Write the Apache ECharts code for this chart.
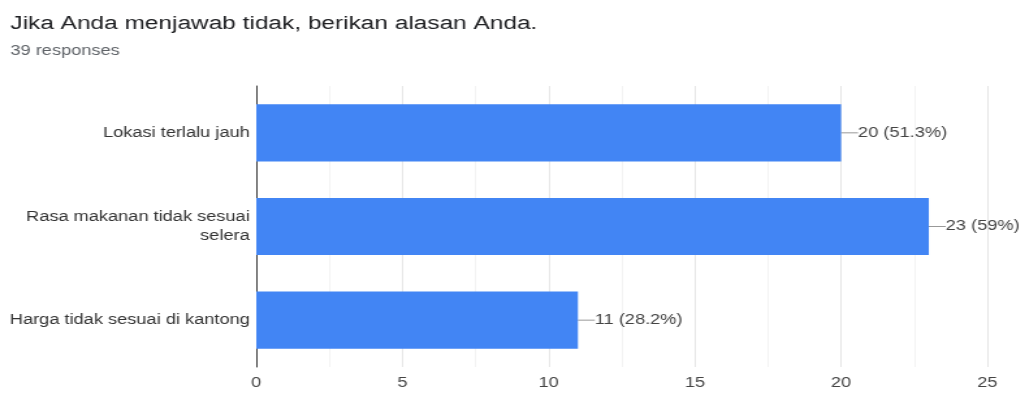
<!DOCTYPE html>
<html>
<head>
<meta charset="utf-8">
<title>Jika Anda menjawab tidak</title>
<script src="https://cdn.jsdelivr.net/npm/echarts@6/dist/echarts.min.js"></script>
<style>
  html, body { margin: 0; padding: 0; background: #fff; overflow: hidden; }
  /* the chart is laid out narrower and widened on screen, giving the wide lettering */
  #chart {
    width: 788px; height: 394px;
    transform: scale(1.3008, 1);
    transform-origin: 0 0;
  }
</style>
</head>
<body>
<div id="chart"></div>
<script>
// Survey answers and their counts
const categories = [
  'Lokasi terlalu jauh',
  'Rasa makanan tidak sesuai\nselera',
  'Harga tidak sesuai di kantong'
];
const counts = [20, 23, 11];
const percents = ['51.3%', '59%', '28.2%'];
const totalResponses = 39;
const xTicks = [0, 5, 10, 15, 20, 25];

const FONT = 'Liberation Sans, Arial, sans-serif';
const chart = echarts.init(document.getElementById('chart'), null, { renderer: 'canvas' });

chart.setOption({
  animation: false,
  backgroundColor: '#ffffff',
  title: [
    {
      text: 'Jika Anda menjawab tidak, berikan alasan Anda.',
      left: 3, top: 9,
      textStyle: { fontFamily: FONT, fontSize: 18.8, fontWeight: 'normal', color: '#202124' }
    },
    {
      text: totalResponses + ' responses',
      left: 3, top: 39,
      textStyle: { fontFamily: FONT, fontSize: 14, fontWeight: 'normal', color: '#5f6368' }
    }
  ],
  grid: { left: 197, right: 29, top: 86, bottom: 27, containLabel: false },
  xAxis: {
    type: 'value',
    min: xTicks[0],
    max: xTicks[xTicks.length - 1],
    interval: xTicks[1] - xTicks[0],
    axisLine: { show: false },
    axisTick: { show: false },
    axisLabel: { fontFamily: FONT, fontSize: 14, color: '#444', margin: 9 },
    splitLine: { show: true, lineStyle: { color: '#e6e6e6', width: 1 } },
    minorTick: { show: false, splitNumber: 2 },
    minorSplitLine: { show: true, lineStyle: { color: '#f3f3f3', width: 1 } }
  },
  yAxis: {
    type: 'category',
    inverse: true,
    data: categories,
    axisLine: { show: true, lineStyle: { color: '#333', width: 1 } },
    axisTick: { show: false },
    axisLabel: {
      fontFamily: FONT, fontSize: 14, color: '#333', margin: 5,
      align: 'right', lineHeight: 19
    }
  },
  series: [{
    type: 'bar',
    data: counts,
    barCategoryGap: '39%',
    itemStyle: { color: '#4285f4' },
    label: {
      show: true,
      position: 'right',
      distance: 0,
      fontFamily: FONT, fontSize: 14, color: '#444',
      formatter: (p) => p.value + ' (' + percents[p.dataIndex] + ')'
    },
    labelLayout: { dx: 13 },
    labelLine: { show: true, lineStyle: { color: '#999', width: 1 } }
  }]
});
</script>
</body>
</html>
